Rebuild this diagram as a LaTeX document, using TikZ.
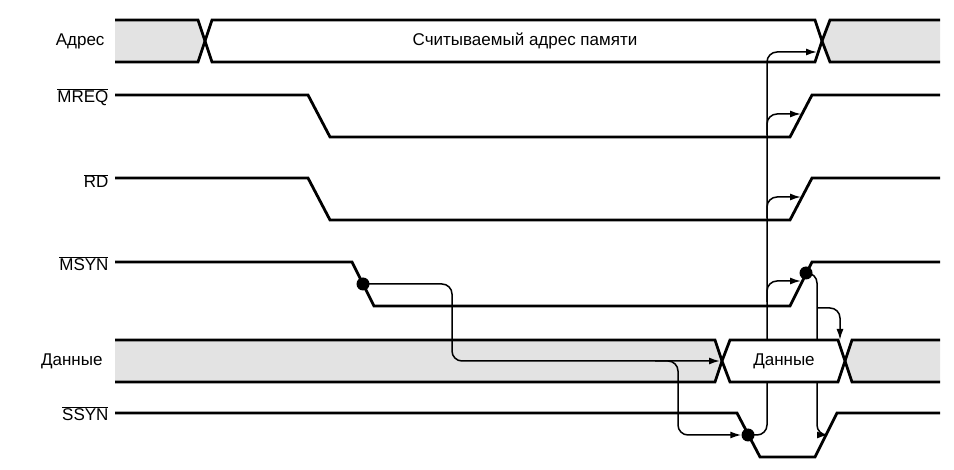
\documentclass[tikz,border=0pt]{standalone}
\usepackage{fontspec}
\setmainfont{Liberation Sans}
\usetikzlibrary{arrows.meta}
\begin{document}
\begin{tikzpicture}[x=1pt,y=-1pt,
  sig/.style={line width=2.8pt,line join=miter},
  hatch/.style={fill=black!11},
  arr/.style={line width=1.5pt,rounded corners=10pt,-{Latex[length=11pt,width=7pt]}},
  lbl/.style={anchor=east,font=\fontsize{17}{19}\selectfont},
  dotc/.style={circle,fill=black,inner sep=0pt,minimum size=13pt}]
\useasboundingbox (0,0) rectangle (954,470);
% labels
\node[lbl] (lA) at (108,41) {Адрес};
\node[lbl] (lM) at (112,97) {$\overline{\mbox{MREQ}}$};
\node[lbl] (lR) at (112,181) {$\overline{\mbox{RD}}$};
\node[lbl] (lS) at (112,264) {$\overline{\mbox{MSYN}}$};
\node[lbl] (lD) at (106,361) {Данные};
\node[lbl] (lY) at (112,414) {$\overline{\mbox{SSYN}}$};
% address bus
\fill[hatch] (115,20)--(198,20)--(205,41)--(198,62)--(115,62)--cycle;
\fill[hatch] (940,20)--(830,20)--(822,41)--(830,62)--(940,62)--cycle;
\draw[sig] (115,20)--(198,20)--(205,41)--(198,62)--(115,62);
\draw[sig] (205,41)--(212,20)--(815,20)--(822,41)--(815,62)--(212,62)--cycle;
\draw[sig] (940,20)--(830,20)--(822,41)--(830,62)--(940,62);
\node[font=\fontsize{17}{19}\selectfont] (tA) at (525,41) {Считываемый адрес памяти};
% MREQ, RD
\draw[sig] (115,95)--(308,95)--(330,137)--(790,137)--(812,95)--(940,95);
\draw[sig] (115,178)--(308,178)--(330,220)--(790,220)--(812,178)--(940,178);
% MSYN
\draw[sig] (115,262)--(352,262)--(374,306)--(790,306)--(812,262)--(940,262);
% data bus hatched parts
\fill[hatch] (115,340)--(715,340)--(722,361)--(715,382)--(115,382)--cycle;
\fill[hatch] (940,340)--(852,340)--(845,361)--(852,382)--(940,382)--cycle;
\draw[sig] (115,340)--(715,340)--(722,361)--(715,382)--(115,382);
\draw[sig] (940,340)--(852,340)--(845,361)--(852,382)--(940,382);
% SSYN
\draw[sig] (115,413)--(737,413)--(760,457)--(815,457)--(837,413)--(940,413);
% dots
\node[dotc] (d1) at (363,284) {};
\node[dotc] (d2) at (748,435) {};
\node[dotc] (d3) at (806,273) {};
\coordinate (aX) at (817,52);
\coordinate (dX) at (720,361);
\coordinate (sY) at (828,435);
\coordinate (mR) at (801,114);
\coordinate (rR) at (801,197);
\coordinate (sR) at (801,281);
\coordinate (dT) at (840,340);
% arrows
\draw[arr] (d1.center) -- (452,284) -- (452,361) -- (dX);
\draw[arr] (655,361) -- (678,361) -- (678,435) -- (d2.west);
\draw[arr] (d2.center) -- (767,435) -- (767,52) -- (aX);
\draw[arr] (767,135) -- (767,114) -- (mR);
\draw[arr] (767,218) -- (767,197) -- (rR);
\draw[arr] (767,302) -- (767,281) -- (sR);
\draw[arr] (d3.center) -- (817,273) -- (817,435) -- (sY);
\draw[arr] (817,308) -- (840,308) -- (dT);
% data box on top
\draw[sig,fill=white] (722,361)--(730,340)--(838,340)--(845,361)--(838,382)--(730,382)--cycle;
\node[font=\fontsize{17}{19}\selectfont] (tD) at (784,361) {Данные};
\end{tikzpicture}
\end{document}
